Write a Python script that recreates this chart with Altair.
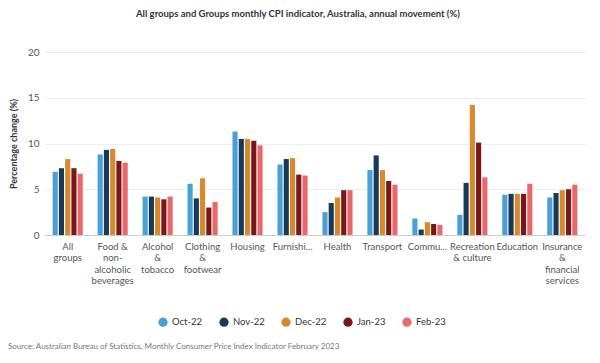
import altair as alt
import pandas as pd

categories = ["All|groups", "Food &|non-|alcoholic|beverages", "Alcohol|&|tobacco",
              "Clothing|&|footwear", "Housing", "Furnishi...", "Health", "Transport",
              "Commu...", "Recreation|& culture", "Education",
              "Insurance|&|financial|services"]
months = ["Oct-22", "Nov-22", "Dec-22", "Jan-23", "Feb-23"]
oct22 = [6.9, 8.8, 4.2, 5.6, 11.3, 7.7, 2.5, 7.1, 1.8, 2.2, 4.4, 4.1]
nov22 = [7.3, 9.3, 4.2, 4.0, 10.5, 8.3, 3.5, 8.7, 0.6, 5.7, 4.5, 4.6]
dec22 = [8.3, 9.4, 4.1, 6.2, 10.5, 8.4, 4.1, 7.1, 1.4, 14.2, 4.5, 4.9]
jan23 = [7.3, 8.1, 3.9, 3.0, 10.3, 6.6, 4.9, 5.9, 1.2, 10.1, 4.5, 5.0]
feb23 = [6.7, 7.9, 4.2, 3.6, 9.8, 6.5, 4.9, 5.5, 1.1, 6.3, 5.6, 5.5]
colors = ["#4a9fd4", "#17395a", "#d9892b", "#7a1719", "#e8686b"]

rows = []
for m, vals in zip(months, [oct22, nov22, dec22, jan23, feb23]):
    for c, v in zip(categories, vals):
        rows.append({"group": c, "month": m, "value": v})
df = pd.DataFrame(rows)

FONT = "Lato"

bars = alt.Chart(df).mark_bar().encode(
    x=alt.X("group:N", sort=categories,
            scale=alt.Scale(paddingInner=0.33, paddingOuter=0.17),
            axis=alt.Axis(title=None, labelAngle=0, labelExpr="split(datum.value, '|')",
                          labelFontSize=9.5, labelColor="#555", labelPadding=6,
                          labelLineHeight=11.5, ticks=False, domainColor="#cccccc",
                          labelFont=FONT, labelBaseline="top", labelLimit=80)),
    xOffset=alt.XOffset("month:N", sort=months, scale=alt.Scale(paddingInner=0.18)),
    y=alt.Y("value:Q", scale=alt.Scale(domain=[0, 20]),
            axis=alt.Axis(values=[0, 5, 10, 15, 20], title="Percentage change (%)",
                          titleFontSize=9, titleFontWeight="bold", titleColor="#333",
                          titleFont=FONT, titlePadding=9,
                          labelFontSize=10, labelColor="#555", labelFont=FONT,
                          labelPadding=6, ticks=False, domain=False,
                          gridColor="#eeeeee")),
    color=alt.Color("month:N", sort=months,
                    scale=alt.Scale(domain=months, range=colors),
                    legend=alt.Legend(title=None, orient="none", direction="horizontal",
                                      legendX=113, legendY=265, symbolType="circle",
                                      symbolSize=85, symbolStrokeWidth=0,
                                      labelFontSize=9.5, labelColor="#333", labelFont=FONT,
                                      columnPadding=16, labelOffset=4)),
)

source = alt.Chart(alt.Data(values=[{"t": "Source: Australian Bureau of Statistics, Monthly Consumer Price Index Indicator February 2023"}])).mark_text(
    align="left", baseline="middle", fontSize=8, color="#777", font=FONT
).encode(text="t:N", x=alt.value(-37), y=alt.value(295))

chart = alt.layer(bars, source).properties(
    width=540, height=183,
    padding={"left": 37, "top": 44, "right": 7, "bottom": 120},
    autosize=alt.AutoSizeParams(type="none"),
    title=alt.TitleParams("All groups and Groups monthly CPI indicator, Australia, annual movement (%)",
                          anchor="start", frame="group", dx=91, offset=29,
                          fontSize=9.5, fontWeight="bold", color="#333", font=FONT),
).configure_view(stroke=None)

chart.save("out.html", embed_options={"renderer": "svg", "actions": False})
